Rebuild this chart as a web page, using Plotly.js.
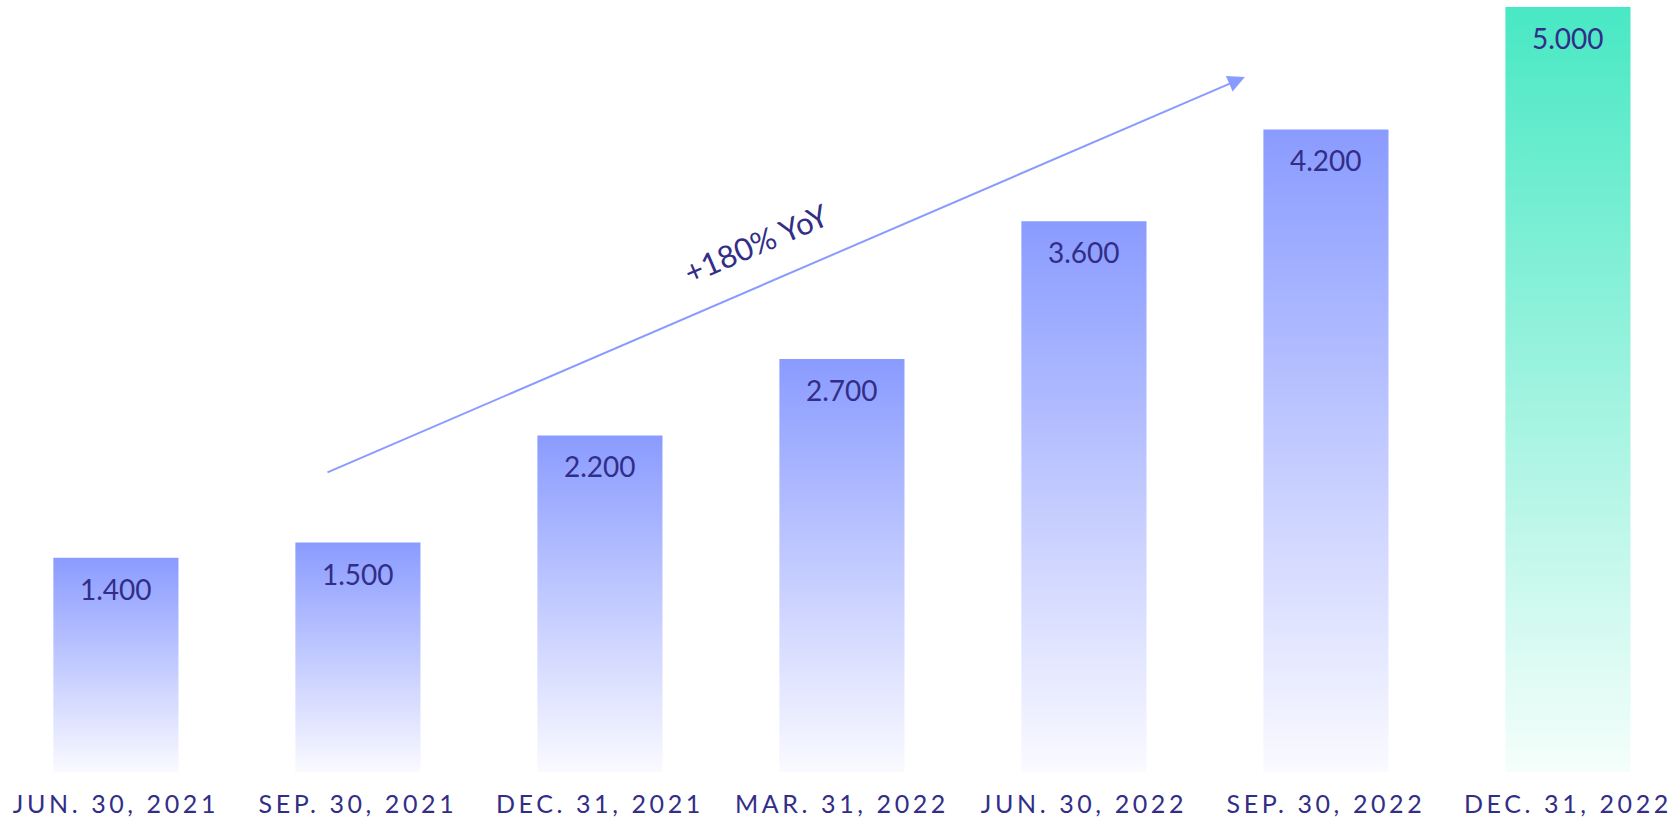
<!DOCTYPE html>
<html>
<head>
<meta charset="utf-8">
<script src="https://cdn.plot.ly/plotly-3.0.1.min.js"></script>
<style>
  html, body { margin: 0; padding: 0; background: #ffffff; }
  #chart { width: 1680px; height: 828px; }
  .xtick text { letter-spacing: 3.6px; }
</style>
</head>
<body>
<div id="chart"></div>
<script>
const categories = ["JUN. 30, 2021", "SEP. 30, 2021", "DEC. 31, 2021", "MAR. 31, 2022", "JUN. 30, 2022", "SEP. 30, 2022", "DEC. 31, 2022"];
const values = [1400, 1500, 2200, 2700, 3600, 4200, 5000];
const growthLabel = "+180% YoY";

const textColor = "#322e88";
const blue = "rgb(138,155,255)";
const green = "rgb(72,232,196)";
const barColors = values.map((v, i) => i === values.length - 1 ? green : blue);

function fmt(v) {
  return String(Math.round(v)).replace(/\B(?=(\d{3})+(?!\d))/g, ".");
}

const trace = {
  type: "bar",
  x: categories,
  y: values,
  width: 0.517,
  marker: { color: barColors, line: { width: 0 } },
  hoverinfo: "skip"
};

const valueAnnotations = categories.map((c, i) => ({
  x: c, y: values[i], xref: "x", yref: "y",
  text: fmt(values[i]), showarrow: false,
  yanchor: "middle", yshift: -31,
  font: { family: "Lato, sans-serif", size: 28, color: textColor }
}));

const arrowAnnotation = {
  x: 4.665, y: 4542, ax: 0.868, ay: 1954,
  xref: "x", yref: "y", axref: "x", ayref: "y",
  text: "", showarrow: true, arrowhead: 2, arrowsize: 1.7, arrowwidth: 2,
  arrowcolor: blue, standoff: 0, startstandoff: 0
};

const growthAnnotation = {
  x: 2.645, y: 3460, xref: "x", yref: "y",
  text: growthLabel, showarrow: false, textangle: -23.3,
  font: { family: "Lato, sans-serif", size: 31, color: textColor }
};

const layout = {
  width: 1680, height: 828,
  margin: { l: 0, r: 0, t: 7, b: 56, pad: 0 },
  paper_bgcolor: "#ffffff", plot_bgcolor: "#ffffff",
  showlegend: false,
  xaxis: {
    type: "category", range: [-0.479, 6.463],
    showgrid: false, zeroline: false, showline: false, ticks: "",
    ticklabelstandoff: 15,
    tickfont: { family: "Lato, sans-serif", size: 25, color: textColor },
    fixedrange: true
  },
  yaxis: {
    range: [0, 5000], visible: false, showgrid: false, zeroline: false, fixedrange: true
  },
  annotations: valueAnnotations.concat([arrowAnnotation, growthAnnotation])
};

Plotly.newPlot("chart", [trace], layout, { displayModeBar: false, staticPlot: true }).then(gd => {
  const NS = "http://www.w3.org/2000/svg";
  const svg = gd.querySelector(".main-svg");
  let defs = svg.querySelector("defs");
  if (!defs) { defs = document.createElementNS(NS, "defs"); svg.insertBefore(defs, svg.firstChild); }
  function addGrad(id, top, bottom) {
    const g = document.createElementNS(NS, "linearGradient");
    g.setAttribute("id", id);
    g.setAttribute("x1", "0"); g.setAttribute("y1", "0");
    g.setAttribute("x2", "0"); g.setAttribute("y2", "1");
    [[0, top], [1, bottom]].forEach(([o, c]) => {
      const s = document.createElementNS(NS, "stop");
      s.setAttribute("offset", o);
      s.setAttribute("stop-color", c);
      g.appendChild(s);
    });
    defs.appendChild(g);
  }
  addGrad("gradBlue", blue, "rgb(250,250,255)");
  addGrad("gradGreen", green, "rgb(245,254,251)");
  const paths = gd.querySelectorAll(".trace.bars .point path");
  paths.forEach((p, i) => {
    p.style.fill = (i === paths.length - 1) ? "url(#gradGreen)" : "url(#gradBlue)";
  });
});
</script>
</body>
</html>
